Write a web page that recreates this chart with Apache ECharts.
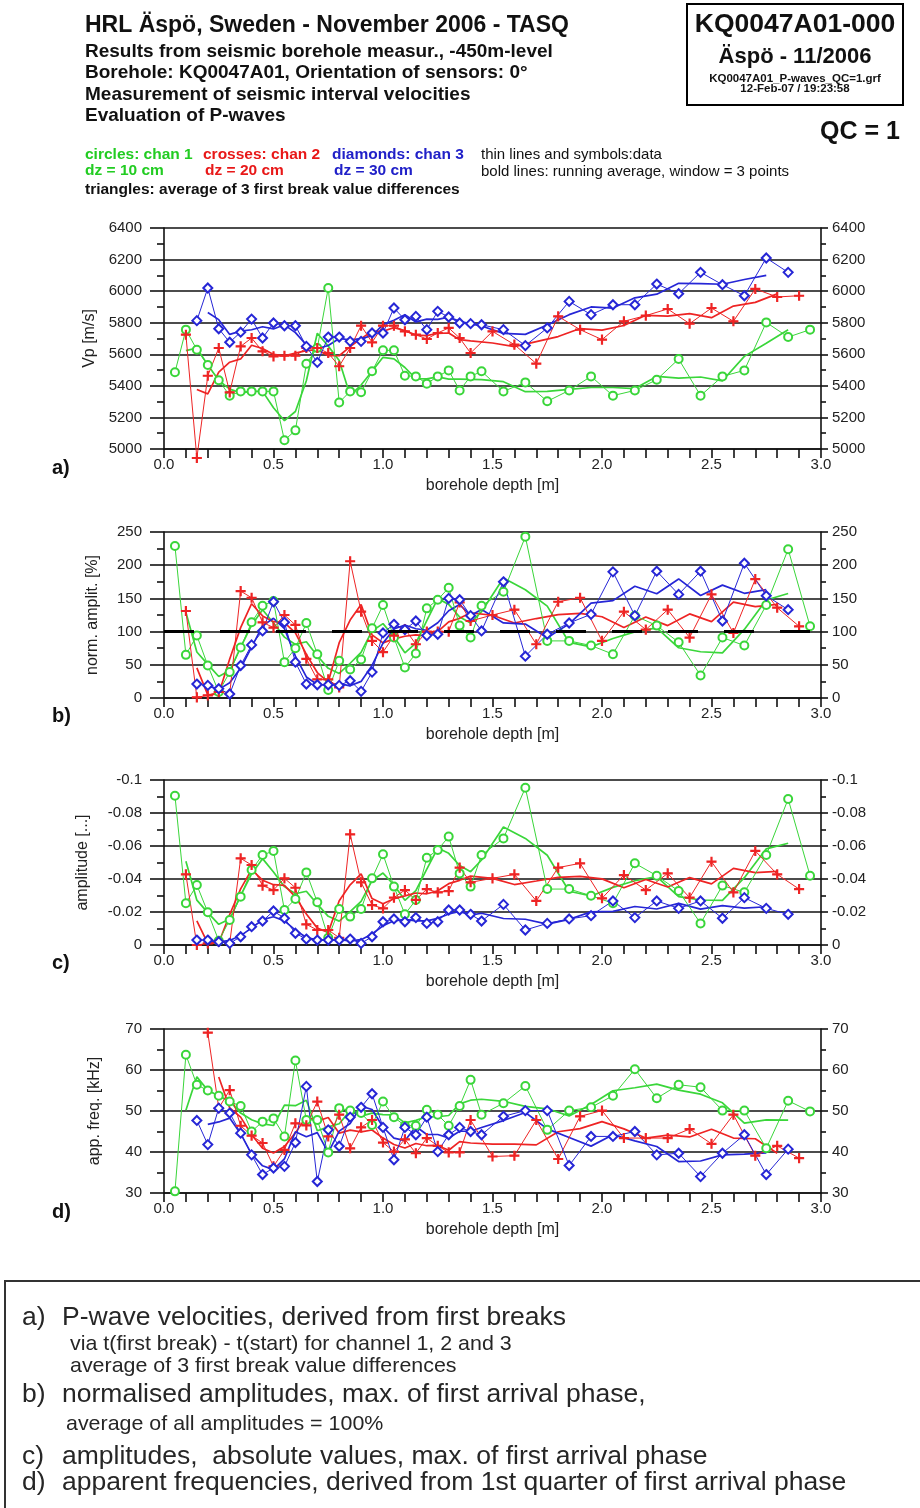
<!DOCTYPE html>
<html>
<head>
<meta charset="utf-8">
<script src="https://cdn.jsdelivr.net/npm/echarts@6/dist/echarts.min.js"></script>
<style>
  html, body { margin: 0; padding: 0; background: #fff; }
  #chart { width: 920px; height: 1508px; }
</style>
</head>
<body>
<div id="chart"></div>
<script>
// depths [m] of the interval midpoints, per channel
const depthG = [0.05, 0.1, 0.15, 0.2, 0.25, 0.3, 0.35, 0.4, 0.45, 0.5, 0.55, 0.6, 0.65, 0.7, 0.75, 0.8, 0.85, 0.9, 0.95, 1.0,
  1.05, 1.1, 1.15, 1.2, 1.25, 1.3, 1.35, 1.4, 1.45, 1.55, 1.65, 1.75, 1.85, 1.95, 2.05, 2.15, 2.25, 2.35, 2.45, 2.55,
  2.65, 2.75, 2.85, 2.95];
const depthR = [0.1, 0.15, 0.2, 0.25, 0.3, 0.35, 0.4, 0.45, 0.5, 0.55, 0.6, 0.65, 0.7, 0.75, 0.8, 0.85, 0.9, 0.95, 1.0,
  1.05, 1.1, 1.15, 1.2, 1.25, 1.3, 1.35, 1.4, 1.5, 1.6, 1.7, 1.8, 1.9, 2.0, 2.1, 2.2, 2.3, 2.4, 2.5, 2.6, 2.7, 2.8, 2.9];
const depthB = [0.15, 0.2, 0.25, 0.3, 0.35, 0.4, 0.45, 0.5, 0.55, 0.6, 0.65, 0.7, 0.75, 0.8, 0.85, 0.9, 0.95, 1.0,
  1.05, 1.1, 1.15, 1.2, 1.25, 1.3, 1.35, 1.4, 1.45, 1.55, 1.65, 1.75, 1.85, 1.95, 2.05, 2.15, 2.25, 2.35, 2.45, 2.55,
  2.65, 2.75, 2.85];

// a) Vp [m/s]
const vpG = [5486, 5756, 5629, 5532, 5435, 5338, 5365, 5365, 5365, 5365, 5055, 5118, 5540, 5640, 6020, 5295, 5365, 5359,
  5492, 5625, 5625, 5464, 5460, 5414, 5460, 5498, 5371, 5460, 5492, 5365, 5422, 5302, 5371, 5460, 5338, 5371, 5439, 5570,
  5338, 5460, 5498, 5802, 5709, 5756];
const vpR = [5724, 4943, 5464, 5640, 5359, 5650, 5703, 5619, 5587, 5591, 5591, 5640, 5640, 5608, 5524, 5640, 5781, 5676,
  5781, 5781, 5745, 5724, 5697, 5735, 5767, 5703, 5608, 5745, 5661, 5541, 5840, 5756, 5693, 5809, 5845, 5887, 5794, 5893,
  5809, 6014, 5963, 5971];
const vpB = [5813, 6020, 5762, 5676, 5740, 5823, 5703, 5798, 5781, 5781, 5650, 5549, 5709, 5709, 5682, 5682, 5735, 5735,
  5893, 5819, 5840, 5756, 5872, 5836, 5798, 5794, 5787, 5756, 5655, 5767, 5935, 5851, 5914, 5914, 6045, 5984, 6119, 6041,
  5971, 6210, 6119];

// b) normalised amplitudes [%]
const normG = [229, 65, 94, 49, 9, 39, 76, 114, 139, 146, 54, 75, 113, 66, 12, 56, 43, 58, 105, 140, 91, 46, 67, 135, 148,
  166, 109, 91, 139, 160, 243, 86, 86, 79, 66, 124, 109, 84, 34, 91, 79, 140, 224, 108];
const normR = [131, 1, 4, 9, 6, 161, 151, 114, 106, 125, 110, 59, 28, 28, 16, 206, 130, 86, 69, 94, 104, 81, 100, 100, 100,
  144, 116, 125, 133, 81, 145, 151, 86, 130, 103, 133, 91, 156, 98, 179, 136, 108];
const normB = [21, 19, 14, 6, 49, 80, 101, 145, 114, 54, 21, 20, 20, 19, 26, 10, 39, 98, 111, 103, 116, 94, 96, 150, 148,
  124, 101, 175, 63, 96, 113, 126, 190, 124, 191, 156, 191, 116, 203, 154, 133];
const normAverage = 100;

// c) amplitudes [...]
const ampG = [-0.0905, -0.0253, -0.0364, -0.0198, -0.0026, -0.0152, -0.0293, -0.0455, -0.0545, -0.057, -0.0212, -0.0279,
  -0.044, -0.0259, -0.0044, -0.0218, -0.0172, -0.0218, -0.0404, -0.055, -0.0354, -0.0186, -0.0273, -0.0529, -0.0576,
  -0.0657, -0.0434, -0.0354, -0.0545, -0.0646, -0.0953, -0.0339, -0.0339, -0.0299, -0.0253, -0.0495, -0.042, -0.0327,
  -0.0131, -0.036, -0.0319, -0.0545, -0.0885, -0.042];
const ampR = [-0.0428, 0, -0.001, -0.002, -0.001, -0.0525, -0.0485, -0.036, -0.0333, -0.0404, -0.0347, -0.0125, -0.0091,
  -0.0091, -0.0044, -0.0671, -0.038, -0.0242, -0.0222, -0.0287, -0.0333, -0.0273, -0.0339, -0.0319, -0.0327, -0.0469,
  -0.038, -0.0404, -0.0428, -0.0267, -0.0469, -0.0495, -0.0283, -0.0424, -0.0333, -0.0434, -0.0287, -0.0505, -0.0319,
  -0.057, -0.0428, -0.0339];
const ampB = [-0.003, -0.003, -0.002, -0.001, -0.005, -0.0111, -0.0145, -0.0206, -0.0162, -0.0071, -0.0036, -0.003, -0.003,
  -0.003, -0.0036, -0.001, -0.005, -0.0141, -0.0158, -0.0141, -0.0166, -0.0131, -0.0141, -0.0212, -0.0212, -0.0186,
  -0.0145, -0.0246, -0.0091, -0.0131, -0.0158, -0.0178, -0.0267, -0.0166, -0.0267, -0.0222, -0.0267, -0.0162, -0.0287,
  -0.0222, -0.0186];

// d) apparent frequencies [kHz]
const freqG = [30.4, 63.7, 56.4, 55.0, 53.7, 52.3, 51.2, 45.0, 47.4, 48.2, 43.8, 62.3, 47.8, 47.8, 39.9, 50.7, 50.1, 49.5,
  46.6, 52.3, 48.5, 46.4, 46.4, 50.3, 49.1, 46.4, 51.2, 57.6, 49.1, 51.9, 56.1, 45.4, 50.1, 50.9, 53.7, 60.2, 53.1, 56.4,
  55.8, 50.1, 50.1, 40.9, 52.5, 49.9];
const freqR = [null, null, 69.1, 50.7, 55.1, 46.4, 44.0, 42.2, 36.5, 40.5, 47.0, 46.5, 52.3, 43.8, 49.1, 40.9, 46.0, 47.8,
  42.3, 40.1, 43.1, 39.7, 43.4, 41.5, 39.9, 39.9, 47.8, 38.9, 39.1, 47.8, 38.3, 48.7, 50.1, 43.4, 43.4, 43.4, 45.6, 42.0,
  49.1, 39.1, 41.5, 38.5];
const freqB = [47.7, 41.8, 50.7, 49.5, 44.6, 39.3, 34.5, 36.1, 36.5, 42.3, 56.0, 32.8, 45.4, 41.4, 48.5, 50.9, 54.2, 46.0,
  38.1, 46.0, 44.2, 48.5, 40.1, 44.2, 46.0, 45.0, 44.2, 48.7, 50.1, 50.1, 36.7, 43.8, 43.8, 45.0, 39.3, 39.7, 34.0, 39.7,
  44.2, 34.5, 40.7];

const depthTicks = [0, 3, 0.5];

const GREEN = '#3ad63a';
const RED = '#ee2424';
const BLUE = '#2626d6';
const FONT = '"Liberation Sans", Arial, sans-serif';
const CROSS = 'path://M4.4,0H5.6V10H4.4ZM0,4.4H10V5.6H0Z';

const panels = [
  { top: 228, height: 221, min: 5000, max: 6400, interval: 200, name: 'Vp [m/s]', gap: 61 },
  { top: 532, height: 166, min: 0, max: 250, interval: 50, name: 'norm. amplit. [%]', gap: 63 },
  { top: 780, height: 165, min: -0.1, max: 0, interval: 0.02, name: 'amplitude [...]', gap: 73, inverse: true },
  { top: 1029, height: 164, min: 30, max: 70, interval: 10, name: 'app. freq. [kHz]', gap: 61 }
];

const zip = (xs, ys) => xs.map((x, i) => [x, ys[i]]);

// bold lines: running average, window = 3 points
const runningAvg = (xs, ys) => {
  const out = [];
  for (let i = 1; i < ys.length - 1; i++) {
    const w = [ys[i - 1], ys[i], ys[i + 1]];
    out.push([xs[i], w.some(v => v == null) ? null : (w[0] + w[1] + w[2]) / 3]);
  }
  return out;
};

const channel = (gi, depth, values, color, symbol, size) => [
  {
    type: 'line',
    xAxisIndex: gi,
    yAxisIndex: gi * 2,
    data: runningAvg(depth, values),
    symbol: 'none',
    lineStyle: { color, width: 1.7 },
    z: 2
  },
  {
    type: 'line',
    xAxisIndex: gi,
    yAxisIndex: gi * 2,
    data: zip(depth, values),
    symbol,
    symbolSize: size,
    showAllSymbol: true,
    clip: false,
    lineStyle: { color, width: 1 },
    itemStyle: { color, borderColor: color, borderWidth: 1.1 },
    z: 3
  }
];

const axisText = { color: '#222', fontSize: 15, fontFamily: FONT };
const black = { color: '#111', width: 1.6 };

const xAxes = panels.map((p, gi) => ({
  type: 'value',
  gridIndex: gi,
  min: depthTicks[0],
  max: depthTicks[1],
  interval: depthTicks[2],
  name: 'borehole depth [m]',
  nameLocation: 'middle',
  nameGap: 29,
  nameTextStyle: { color: '#222', fontSize: 16, fontFamily: FONT },
  axisLine: { lineStyle: black },
  axisTick: { length: 9, lineStyle: black },
  minorTick: { show: true, splitNumber: 5, length: 9, lineStyle: black },
  axisLabel: { ...axisText, margin: 8, formatter: v => v.toFixed(1) },
  splitLine: { show: false }
}));

const yAxes = [];
panels.forEach((p, gi) => {
  const base = {
    type: 'value',
    gridIndex: gi,
    min: p.min,
    max: p.max,
    interval: p.interval,
    inverse: !!p.inverse,
    axisLine: { show: true, lineStyle: black },
    minorTick: { show: true, splitNumber: 2, lineStyle: black },
    axisLabel: { ...axisText, formatter: v => String(+v.toFixed(2)) }
  };
  yAxes.push({
    ...base,
    position: 'left',
    name: p.name,
    nameLocation: 'middle',
    nameGap: p.gap,
    nameTextStyle: { color: '#222', fontSize: 16, fontFamily: FONT },
    axisTick: { length: 14, lineStyle: black },
    minorTick: { ...base.minorTick, length: 7 },
    axisLabel: { ...base.axisLabel, margin: 22 },
    splitLine: { show: true, lineStyle: black }
  });
  yAxes.push({
    ...base,
    position: 'right',
    axisTick: { length: 7, lineStyle: black },
    minorTick: { ...base.minorTick, length: 5 },
    axisLabel: { ...base.axisLabel, margin: 11 },
    splitLine: { show: false }
  });
});

const series = [
  ...channel(0, depthG, vpG, GREEN, 'emptyCircle', 8),
  ...channel(0, depthR, vpR, RED, CROSS, 9),
  ...channel(0, depthB, vpB, BLUE, 'emptyDiamond', 9),
  ...channel(1, depthG, normG, GREEN, 'emptyCircle', 8),
  ...channel(1, depthR, normR, RED, CROSS, 9),
  ...channel(1, depthB, normB, BLUE, 'emptyDiamond', 9),
  ...channel(2, depthG, ampG, GREEN, 'emptyCircle', 8),
  ...channel(2, depthR, ampR, RED, CROSS, 9),
  ...channel(2, depthB, ampB, BLUE, 'emptyDiamond', 9),
  ...channel(3, depthG, freqG, GREEN, 'emptyCircle', 8),
  ...channel(3, depthR, freqR, RED, CROSS, 9),
  ...channel(3, depthB, freqB, BLUE, 'emptyDiamond', 9)
];

// average of all amplitudes = 100%
series.push({
  type: 'line',
  xAxisIndex: 1,
  yAxisIndex: 2,
  data: [],
  markLine: {
    silent: true,
    symbol: 'none',
    label: { show: false },
    lineStyle: { color: '#000', width: 3, type: [30, 26] },
    data: [{ yAxis: normAverage }]
  },
  z: 1
});

const txt = (text, x, y, font, fill, extra) => ({
  type: 'text',
  x,
  y,
  ...(extra || {}),
  style: { text, font, fill: fill || '#111', verticalAlign: 'middle', align: (extra && extra.align) || 'left' }
});

const footFont = '26px ' + FONT;
const footSmall = '21px ' + FONT;
const wide = { scaleX: 1.02 };
const legFont = 'bold 15.5px ' + FONT;

const graphic = [
  txt('HRL Äspö, Sweden - November 2006 - TASQ', 85, 26, 'bold 23px ' + FONT),
  txt('Results from seismic borehole measur., -450m-level', 85, 52, 'bold 19px ' + FONT),
  txt('Borehole: KQ0047A01, Orientation of sensors: 0°', 85, 73, 'bold 19px ' + FONT),
  txt('Measurement of seismic interval velocities', 85, 95, 'bold 19px ' + FONT),
  txt('Evaluation of P-waves', 85, 116, 'bold 19px ' + FONT),

  txt('circles: chan 1', 85, 155, legFont, '#22cc22'),
  txt('crosses: chan 2', 203, 155, legFont, '#e81818'),
  txt('diamonds: chan 3', 332, 155, legFont, '#2020c8'),
  txt('dz = 10 cm', 85, 171, legFont, '#22cc22'),
  txt('dz = 20 cm', 205, 171, legFont, '#e81818'),
  txt('dz = 30 cm', 334, 171, legFont, '#2020c8'),
  txt('triangles: average of 3 first break value differences', 85, 190, legFont),
  txt('thin lines and symbols:data', 481, 155, '15px ' + FONT),
  txt('bold lines: running average, window = 3 points', 481, 172, '15px ' + FONT),

  {
    type: 'rect',
    shape: { x: 687, y: 4, width: 216, height: 101 },
    style: { fill: 'none', stroke: '#000', lineWidth: 2 }
  },
  txt('KQ0047A01-000', 795, 25, 'bold 26.5px ' + FONT, '#111', { align: 'center' }),
  txt('Äspö - 11/2006', 795, 57, 'bold 22px ' + FONT, '#111', { align: 'center' }),
  txt('KQ0047A01_P-waves_QC=1.grf', 795, 79, 'bold 11.5px ' + FONT, '#111', { align: 'center' }),
  txt('12-Feb-07 / 19:23:58', 795, 89, 'bold 11.5px ' + FONT, '#111', { align: 'center' }),
  txt('QC = 1', 900, 132, 'bold 25px ' + FONT, '#111', { align: 'right' }),

  txt('a)', 52, 468, 'bold 20px ' + FONT),
  txt('b)', 52, 716, 'bold 20px ' + FONT),
  txt('c)', 52, 963, 'bold 20px ' + FONT),
  txt('d)', 52, 1212, 'bold 20px ' + FONT),

  {
    type: 'rect',
    shape: { x: 5, y: 1281, width: 930, height: 240 },
    style: { fill: 'none', stroke: '#333', lineWidth: 2 }
  },
  txt('a)', 22, 1318, footFont, '#262626', wide),
  txt('P-wave velocities, derived from first breaks', 62, 1318, footFont, '#262626', wide),
  txt('via t(first break) - t(start) for channel 1, 2 and 3', 70, 1344, footSmall, '#262626', wide),
  txt('average of 3 first break value differences', 70, 1366, footSmall, '#262626', wide),
  txt('b)', 22, 1395, footFont, '#262626', wide),
  txt('normalised amplitudes, max. of first arrival phase,', 62, 1395, footFont, '#262626', wide),
  txt('average of all amplitudes = 100%', 66, 1424, footSmall, '#262626', wide),
  txt('c)', 22, 1457, footFont, '#262626', wide),
  txt('amplitudes,  absolute values, max. of first arrival phase', 62, 1457, footFont, '#262626', wide),
  txt('d)', 22, 1483, footFont, '#262626', wide),
  txt('apparent frequencies, derived from 1st quarter of first arrival phase', 62, 1483, footFont, '#262626', wide)
];

const chart = echarts.init(document.getElementById('chart'), null, { renderer: 'canvas' });

chart.setOption({
  animation: false,
  backgroundColor: '#fff',
  textStyle: { fontFamily: FONT },
  grid: panels.map(p => ({ left: 164, width: 657, top: p.top, height: p.height })),
  xAxis: xAxes,
  yAxis: yAxes,
  series,
  graphic
});
</script>
</body>
</html>
